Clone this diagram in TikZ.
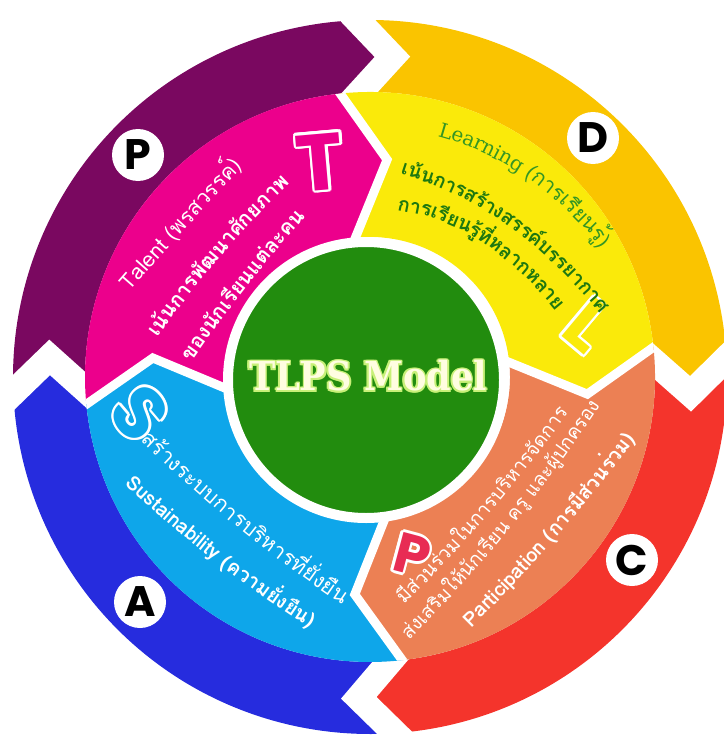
\documentclass[tikz,border=0pt]{standalone}
\usepackage{fontspec}
\usetikzlibrary{calc,decorations.text}

\newfontfamily\thaifont[Script=Thai]{Loma}
\newfontfamily\slabfont{DejaVu Serif}
\newfontfamily\modelfont[FakeStretch=0.88]{DejaVu Serif}
\newfontfamily\letterfont{Poppins}

\definecolor{pPurple}{RGB}{122,8,96}
\definecolor{dYellow}{RGB}{250,196,0}
\definecolor{cRed}{RGB}{244,52,44}
\definecolor{aBlue}{RGB}{38,44,222}
\definecolor{tPink}{RGB}{236,0,140}
\definecolor{lYellow}{RGB}{250,234,10}
\definecolor{pOrange}{RGB}{236,128,84}
\definecolor{sCyan}{RGB}{14,166,234}
\definecolor{pRose}{RGB}{232,44,84}
\definecolor{mGreen}{RGB}{34,140,14}
\definecolor{lGreen}{RGB}{52,150,36}
\definecolor{dGreen}{RGB}{30,120,16}
\definecolor{glowGreen}{RGB}{200,240,120}
\definecolor{cream}{RGB}{255,253,225}

% fonts of the curved lines
\newcommand{\talentline}{\thaifont\fontsize{16}{20}\selectfont\color{white}}
\newcommand{\talentbold}{\thaifont\bfseries\fontsize{15.5}{20}\selectfont\color{white}}
\newcommand{\learnlat}{\slabfont\fontsize{15}{18}\selectfont\color{lGreen}}
\newcommand{\learnthai}{\thaifont\fontsize{16}{18}\selectfont\color{lGreen}}
\newcommand{\learnbold}{\thaifont\bfseries\fontsize{15}{18}\selectfont\color{dGreen}}
\newcommand{\partline}{\thaifont\fontsize{14.5}{18}\selectfont\color{white}}
\newcommand{\partbold}{\thaifont\bfseries\fontsize{15}{18}\selectfont\color{white}}
\newcommand{\sustline}{\thaifont\fontsize{16}{18}\selectfont\color{white}}
\newcommand{\sustbold}{\thaifont\bfseries\fontsize{15}{18}\selectfont\color{white}}

\tikzset{every picture/.style={line width=0.75pt}}
\tikzset{
  outerband/.style={draw=white, line width=19.5pt},
  innerband/.style={draw=white, line width=6.75pt},
  pdcaring/.style={circle, fill=white, minimum size=39pt, inner sep=0pt,
    font=\letterfont\bfseries\fontsize{32}{32}\selectfont},
  hollowletter/.style={inner sep=0pt, font=\letterfont\bfseries\fontsize{#1}{#1}\selectfont},
  hub/.style={circle, fill=mGreen, draw=white, line width=7.5pt, minimum size=207pt, inner sep=0pt},
  modeltext/.style={inner sep=0.75pt, font=\modelfont\bfseries\fontsize{30}{36}\selectfont},
  curvetext/.style={decorate, decoration={text along path, text align=center, raise=#1}},
}

\begin{document}
\begin{tikzpicture}[x=0.75pt,y=0.75pt,yscale=-1,xscale=1]
\useasboundingbox (0,0) rectangle (724,735);

\begin{scope}[shift={(370,377)},yscale=-1]
%Shape: Arrow ring P D C A
\foreach \a/\b/\c in {176.5/86/pPurple, 86/-3/dYellow, -3/-92/cRed, -92/-183.5/aBlue}{
  \fill[\c] ({\a+6}:357) arc[start angle=\a+6, end angle=\b+6, radius=357] -- (\b:321)
    -- ({\b+6}:285) arc[start angle=\b+6, end angle=\a+6, radius=285] -- (\a:321) -- cycle;
}
%Shape: white chevrons between the arrows
\foreach \b in {86,-3,-92,176.5}{
  \draw[outerband] ($(\b:321)!1.7!({\b+6}:357)$) -- (\b:321) -- ($(\b:321)!1.7!({\b+6}:285)$);
}
%Shape: Arrow ring T L P S
\foreach \a/\b/\c in {175/85.5/tPink, 85.5/-4.5/lYellow, -4.5/-94/pOrange, -94/-185/sCyan}{
  \fill[\c] ({\a+10.5}:285) arc[start angle=\a+10.5, end angle=\b+10.5, radius=285] -- (\b:218)
    -- ({\b+10.5}:140) arc[start angle=\b+10.5, end angle=\a+10.5, radius=140] -- (\a:218) -- cycle;
}
\begin{scope}
\clip (0,0) circle[radius=285];
\foreach \b in {85.5,-4.5,-94,175}{
  \draw[innerband] ($(\b:218)!1.6!({\b+10.5}:285)$) -- (\b:218) -- ($(\b:218)!1.6!({\b+10.5}:140)$);
}
\end{scope}
\end{scope}

%Shape: Circle
\draw (366,380) node[hub] (core) {};

%Shape: PDCA discs
\draw (138,155) node[pdcaring] (pdcaP) {P};
\draw (593,138) node[pdcaring] (pdcaD) {D};
\draw (632,560) node[pdcaring] (pdcaC) {C};
\draw (140,602) node[pdcaring] (pdcaA) {A};

%Shape: hollow letters
\foreach \x/\y/\r/\s/\c/\l in {320/162/5/60/tPink/T, 588/325/-40/55/lYellow/L, 140/413/-50/55/sCyan/S, 412/555/-15/42/pRose/P}{
  \foreach \ang in {0,30,...,330}
    \draw ($(\x,\y)+(\ang:2.6)$) node[hollowletter=\s, text=white, rotate=\r] {\l};
  \draw (\x,\y) node[hollowletter=\s, text=\c, rotate=\r] (let\l) {\l};
}

% Text Node
\foreach \ang in {0,45,...,315}
  \draw ($(368,376)+(\ang:1.6)$) node[modeltext, text=glowGreen] {TLPS Model};
\draw (368,376) node[modeltext, text=cream] (title) {TLPS Model};

% Text Node (Talent)
\path[curvetext=-5pt, decoration={text={|\talentline|Talent {(พร}{สว}{รรค์)}}}]
  (108.9,305.6) .. controls (155.2,251.9) and (203.7,198.1) .. (254.5,144.4);
\path[curvetext=-5pt, decoration={text={|\talentbold|{เน้น}{การ}{พัฒ}{นา}{ศัก}{ยภาพ}}}]
  (138.4,354.3) .. controls (185.5,283.4) and (240.6,219.2) .. (303.5,161.9);
\path[curvetext=-5pt, decoration={text={|\talentbold|{ของ}{นัก}{เรียน}{แต่}{ละ}{คน}}}]
  (175.3,374.8) .. controls (217.2,311.3) and (263.5,252.4) .. (314.4,198.0);

% Text Node (Learning)
\path[curvetext=-5pt, decoration={text={|\learnlat|Learning |\learnthai|{(การ}{เรียน}{รู้)}}}]
  (411.8,123.9) .. controls (494.8,137.8) and (565.4,185.4) .. (623.7,266.9);
\path[curvetext=-5pt, decoration={text={|\learnbold|{เน้น}{การ}{สร้าง}{สรรค์}{บรร}{ยา}{กาศ}}}]
  (369.7,160.5) .. controls (467.4,177.3) and (552.8,235.8) .. (625.8,336.0);
\path[curvetext=-5pt, decoration={text={|\learnbold|{การ}{เรียน}{รู้}{ที่}{หลาก}{หลาย}}}]
  (377.6,203.6) .. controls (448.7,202.9) and (514.1,242.8) .. (573.9,323.2);

% Text Node (Participation)
\path[curvetext=-5pt, decoration={text={|\partline|{มี}{ส่วน}{ร่วม}{ใน}{การ}{บริ}{หาร}{จัด}{การ}}}]
  (382.4,617.3) .. controls (454.2,547.8) and (519.2,471.6) .. (577.4,388.5);
\path[curvetext=-5pt, decoration={text={|\partline|{ส่ง}{เสริม}{ให้}{นัก}{เรียน} {ครู} {และ}{ผู้}{ปก}{ครอง}}}]
  (384.1,655.7) .. controls (468.6,574.2) and (544.0,481.5) .. (610.3,377.5);
\path[curvetext=-5pt, decoration={text={|\partbold|Participation {(การ}{มี}{ส่วน}{ร่วม)}}}]
  (444.4,644.9) .. controls (519.2,573.7) and (587.2,495.7) .. (648.5,410.9);

% Text Node (Sustainability)
\path[curvetext=-5pt, decoration={text={|\sustline|{สร้าง}{ระ}{บบ}{การ}{บริ}{หาร}{ที่}{ยั่ง}{ยืน}}}]
  (127.5,417.7) .. controls (200.4,491.8) and (280.2,556.8) .. (366.7,612.7);
\path[curvetext=-5pt, decoration={text={|\sustbold|Sustainability {(ความ}{ยั่ง}{ยืน)}}}]
  (107.4,458.5) .. controls (177.7,527.4) and (254.9,587.2) .. (338.8,637.9);

\end{tikzpicture}
\end{document}
